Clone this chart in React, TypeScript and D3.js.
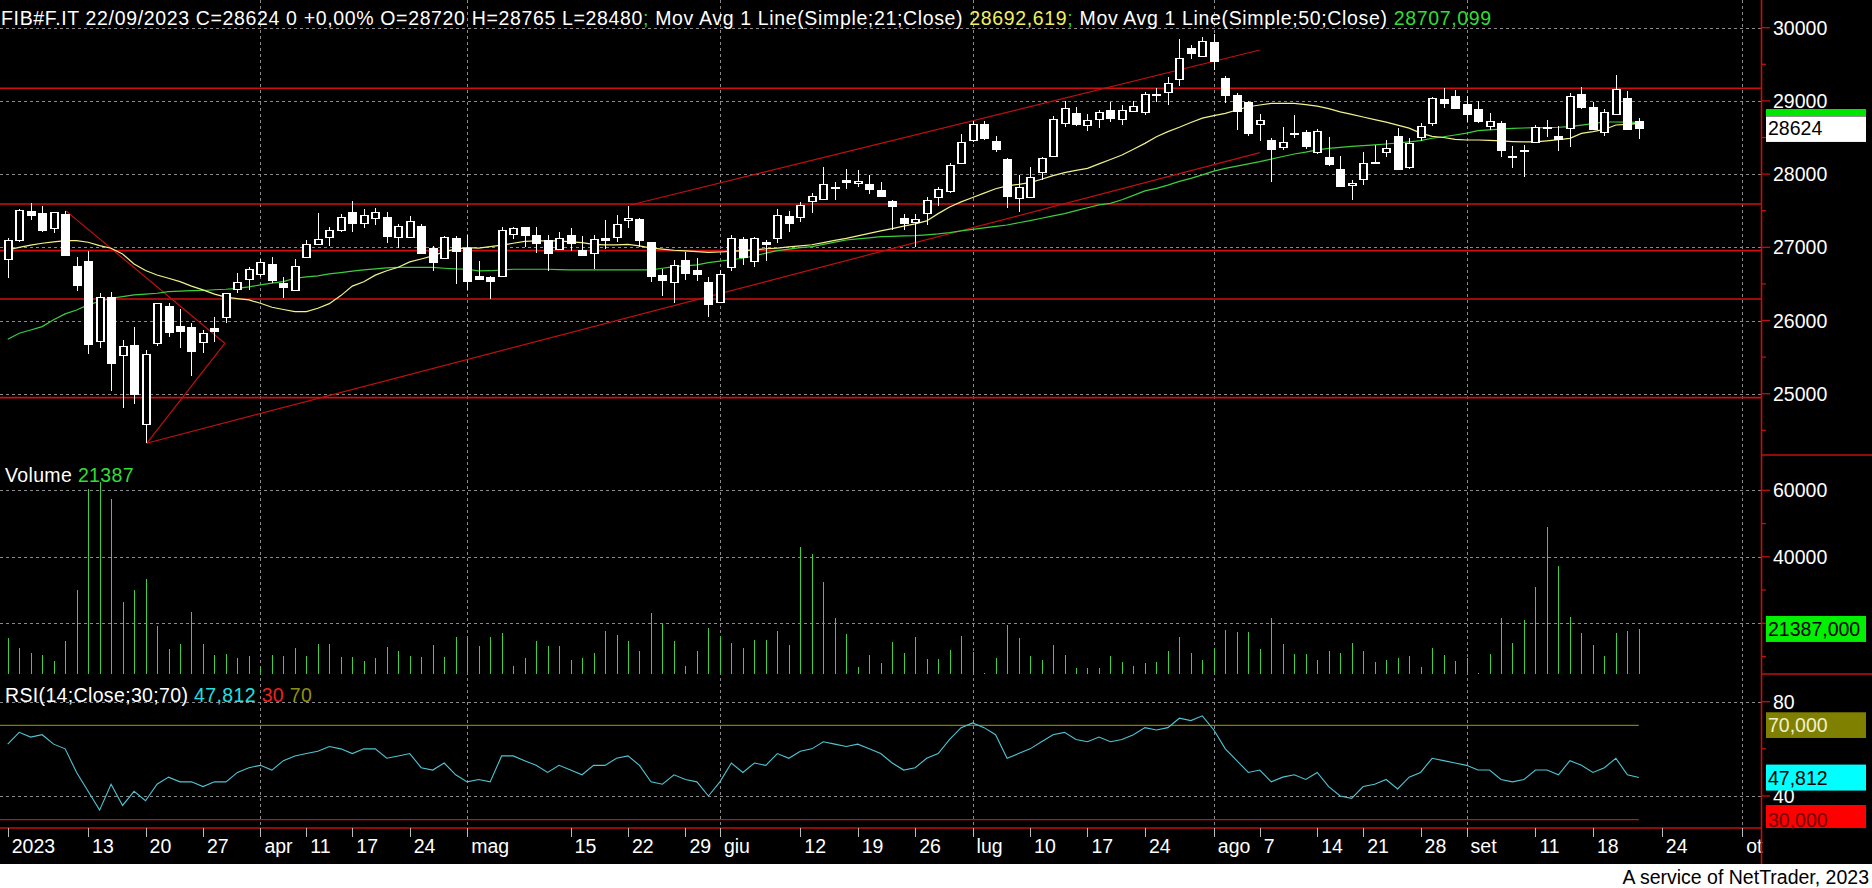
import * as d3 from "d3";

// FIB future, daily candles 02/03/2023 .. 22/09/2023
const openP = [
  26836, 27100, 27497, 27465, 27260, 27456, 26745, 26814, 25725, 26317,
  25525, 25666, 24592, 25698, 26199, 25926, 25908, 25712, 25898, 26044,
  26427, 26563, 26641, 26768, 26509, 26413, 26864, 27041, 27146, 27237,
  27478, 27337, 27396, 27410, 27146, 27146, 27292, 26996, 26850, 27123,
  26996, 26604, 26590, 26613, 27187, 27273, 27169, 27100, 26982, 27169,
  26964, 26918, 27123, 27146, 27369, 27387, 27073, 26622, 26531, 26827,
  26691, 26527, 26254, 26736, 27114, 26818, 27073, 27132, 27428, 27410,
  27638, 27665, 27829, 27920, 27875, 27865, 27783, 27629, 27401, 27351,
  27474, 27683, 27774, 28148, 28470, 28690, 28453, 28202, 27670, 27683,
  28034, 28252, 28703, 28830, 28671, 28753, 28876, 28753, 28867, 28853,
  29094, 29126, 29299, 29718, 29618, 29800, 29308, 29081, 28990, 28680,
  28466, 28375, 28566, 28571, 28297, 28238, 28065, 27847, 27929, 28156,
  28307, 28521, 28102, 28511, 28694, 29026, 29067, 28958, 28885, 28662,
  28703, 28243, 28330, 28434, 28630, 28521, 28626, 29095, 28913, 28571,
  28817, 29035, 28720,
];
const highP = [
  27123, 27519, 27601, 27565, 27487, 27501, 26864, 26950, 26372, 26386,
  25735, 25912, 25598, 26244, 26235, 26153, 25962, 25871, 26053, 26381,
  26645, 26727, 26836, 26864, 26600, 26836, 27100, 27474, 27273, 27456,
  27633, 27524, 27533, 27478, 27319, 27428, 27319, 27023, 27155, 27155,
  27169, 26814, 26609, 27273, 27273, 27283, 27273, 27169, 27214, 27260,
  27155, 27169, 27374, 27442, 27565, 27396, 27078, 26709, 26827, 26941,
  26850, 26600, 26691, 27169, 27146, 27137, 27101, 27519, 27497, 27624,
  27738, 28093, 27888, 28066, 28057, 27988, 27888, 27647, 27456, 27456,
  27692, 27829, 28148, 28548, 28720, 28720, 28521, 28216, 27988, 28093,
  28230, 28800, 28999, 28912, 28817, 28876, 28990, 28944, 29003, 29126,
  29172, 29322, 29845, 29764, 29868, 29909, 29340, 29103, 29003, 28821,
  28489, 28639, 28807, 28603, 28616, 28502, 28247, 27920, 28307, 28398,
  28466, 28625, 28489, 28694, 29058, 29172, 29149, 29067, 28999, 28840,
  28726, 28384, 28398, 28671, 28739, 28658, 29104, 29186, 28990, 28885,
  29354, 29136, 28765,
];
const lowP = [
  26586, 27078, 27374, 27214, 27192, 26887, 26408, 25539, 25621, 25042,
  24810, 24865, 24323, 25653, 25780, 25630, 25247, 25552, 25712, 25971,
  26381, 26417, 26600, 26509, 26313, 26404, 26855, 27032, 27019, 27214,
  27214, 27260, 27305, 27064, 26987, 27146, 26927, 26682, 26836, 26495,
  26417, 26572, 26295, 26600, 27110, 27009, 26918, 26682, 26964, 26955,
  26900, 26709, 26982, 27078, 27260, 27009, 26531, 26340, 26235, 26554,
  26545, 26053, 26245, 26682, 26759, 26727, 26818, 27064, 27214, 27351,
  27474, 27647, 27647, 27797, 27829, 27729, 27706, 27237, 27237, 27000,
  27305, 27565, 27747, 28139, 28440, 28470, 28307, 27533, 27488, 27670,
  27920, 28240, 28648, 28657, 28593, 28625, 28716, 28671, 28853, 28807,
  28990, 28944, 29208, 29572, 29618, 29422, 28967, 28603, 28521, 28457,
  27897, 28329, 28489, 28343, 28275, 28111, 27842, 27646, 27851, 28138,
  28229, 28065, 28065, 28457, 28657, 28899, 28885, 28717, 28703, 28603,
  28239, 28079, 27956, 28421, 28512, 28321, 28375, 28890, 28612, 28525,
  28817, 28603, 28480,
];
const closeP = [
  27096, 27510, 27446, 27237, 27478, 26896, 26486, 25680, 26317, 25416,
  25653, 25002, 25539, 26235, 25848, 25862, 25589, 25835, 25862, 26372,
  26522, 26700, 26795, 26554, 26463, 26750, 27041, 27110, 27237, 27410,
  27337, 27442, 27478, 27160, 27292, 27360, 26927, 26805, 27137, 26955,
  26545, 26572, 26545, 27237, 27260, 27169, 27055, 26927, 27132, 27055,
  26900, 27110, 27105, 27319, 27396, 27100, 26613, 26554, 26754, 26654,
  26636, 26226, 26636, 27123, 26873, 27123, 27046, 27437, 27328, 27574,
  27702, 27865, 27829, 27897, 27906, 27797, 27706, 27570, 27337, 27383,
  27647, 27793, 28125, 28435, 28680, 28490, 28339, 27706, 27820, 27966,
  28216, 28750, 28898, 28684, 28739, 28844, 28771, 28876, 28930, 29094,
  29099, 29240, 29581, 29650, 29823, 29550, 29081, 28867, 28566, 28739,
  28338, 28443, 28557, 28389, 28589, 28134, 27842, 27883, 28147, 28165,
  28361, 28074, 28429, 28657, 29035, 28976, 28908, 28821, 28730, 28730,
  28330, 28234, 28325, 28649, 28639, 28480, 29067, 28922, 28621, 28844,
  29158, 28617, 28624,
];
const volume = [
  15500, 12500, 11000, 10400, 8700, 14700, 30000, 60300, 62600, 57300,
  26300, 30000, 33300, 19200, 12300, 13800, 23300, 13800, 10500, 10800,
  9500, 10200, 7000, 10500, 10200, 12700, 10200, 13800, 13800, 9900,
  9900, 8700, 9500, 12900, 11700, 10200, 9900, 13500, 9900, 15900,
  16200, 13200, 15900, 17100, 7200, 9500, 14700, 13200, 13200, 9000,
  9500, 11100, 17700, 16500, 14700, 11700, 23000, 20000, 14700, 7200,
  11700, 18600, 16200, 14100, 12600, 15000, 15000, 17700, 13500, 42900,
  40800, 32400, 21600, 16800, 6900, 10500, 8100, 14400, 11100, 15900,
  9200, 9300, 12000, 16200, 11300, 5200, 9500, 19500, 15600, 10200,
  9000, 13500, 10500, 6600, 6600, 6600, 10200, 8400, 7200, 8100,
  8400, 11700, 15900, 11100, 9000, 12600, 18000, 17400, 17400, 12300,
  21600, 13800, 10800, 10800, 9000, 11700, 11100, 14100, 11700, 8400,
  9000, 9600, 10200, 6900, 12600, 10500, 8700, 9600, 5200, 10800,
  21600, 14100, 21000, 30900, 49000, 37200, 21900, 17100, 13500, 10200,
  17100, 17700, 18300,
];
const ma21 = [
  26964, 27000, 27030, 27055, 27075, 27091, 27091, 27069, 27023, 26987,
  26909, 26773, 26682, 26622, 26577, 26531, 26470, 26418, 26360, 26320,
  26300, 26281, 26235, 26181, 26150, 26122, 26122, 26167, 26230, 26340,
  26470, 26530, 26620, 26680, 26727, 26800, 26840, 26882, 26940, 26975,
  26996, 26990, 27010, 27030, 27055, 27080, 27087, 27087, 27087, 27075,
  27064, 27040, 27032, 27032, 27041, 27020, 26990, 26975, 26960, 26950,
  26941, 26930, 26936, 26945, 26955, 26965, 26980, 26990, 27005, 27020,
  27035, 27065, 27095, 27123, 27155, 27190, 27225, 27255, 27290, 27320,
  27360, 27460, 27550, 27620, 27680, 27740, 27800, 27840, 27860, 27884,
  27930, 27980, 28020, 28050, 28079, 28140, 28200, 28261, 28340, 28420,
  28511, 28580, 28640, 28705, 28765, 28800, 28830, 28876, 28920, 28944,
  28965, 28967, 28967, 28950, 28928, 28895, 28850, 28815, 28780, 28745,
  28710, 28670, 28628, 28560, 28515, 28500, 28475, 28466, 28466, 28460,
  28453, 28445, 28439, 28440, 28455, 28470, 28489, 28557, 28580, 28610,
  28671, 28680, 28693,
];
const ma50 = [
  25744, 25826, 25870, 25917, 26010, 26090, 26144, 26213, 26260, 26304,
  26326, 26349, 26360, 26372, 26395, 26400, 26408, 26410, 26420, 26427,
  26440, 26460, 26486, 26510, 26531, 26577, 26595, 26610, 26636, 26655,
  26675, 26691, 26705, 26718, 26727, 26727, 26727, 26725, 26714, 26705,
  26700, 26677, 26680, 26690, 26700, 26700, 26700, 26700, 26695, 26692,
  26691, 26691, 26691, 26691, 26691, 26691, 26691, 26714, 26736, 26745,
  26759, 26791, 26810, 26830, 26850, 26885, 26920, 26955, 26975, 26995,
  27009, 27040, 27070, 27100, 27115, 27130, 27146, 27150, 27155, 27160,
  27170, 27183, 27200, 27225, 27246, 27265, 27285, 27305, 27335, 27365,
  27397, 27430, 27460, 27500, 27540, 27580, 27601, 27650, 27710, 27770,
  27806, 27850, 27900, 27942, 27990, 28040, 28079, 28110, 28140, 28170,
  28205, 28240, 28275, 28300, 28330, 28352, 28365, 28380, 28390, 28400,
  28411, 28425, 28440, 28457, 28490, 28510, 28534, 28560, 28594, 28605,
  28615, 28626, 28630, 28634, 28635, 28640, 28649, 28670, 28690, 28712,
  28712, 28710, 28707,
];
const rsi = [
  62, 67, 65, 66, 62, 60, 50, 42, 34, 45,
  36, 42, 38, 45, 48, 46, 46, 44, 46, 46,
  50, 52, 53, 51, 55, 57, 58, 59, 61, 60,
  58, 60, 60, 56, 57, 58, 52, 51, 54, 49,
  46, 47, 46, 57, 57, 55, 53, 50, 53, 51,
  49, 53, 53, 56, 57, 53, 46, 45, 49, 47,
  46, 40, 46, 54, 50, 54, 53, 58, 56, 59,
  60, 63, 62, 61, 62, 60, 58, 54, 51, 52,
  56, 58, 64, 69, 71, 69, 66, 56, 58, 60,
  63, 66, 67, 64, 63, 65, 63, 64, 66, 69,
  68, 69, 73, 72, 74, 68, 60, 55, 50, 51,
  46, 48, 49, 47, 50, 44, 40, 39, 44, 45,
  47, 43, 48, 50, 56, 55, 54, 53, 51, 51,
  47, 46, 47, 51, 51, 49, 55, 53, 50, 52,
  56, 49, 47.812,
];

// x axis: slot index of each label (trading days, then calendar days after 22/09)
const tickLabels = ["2023", "13", "20", "27", "apr", "11", "17", "24", "mag", "15", "22", "29", "giu", "12", "19", "26", "lug", "10", "17", "24", "ago", "7", "14", "21", "28", "set", "11", "18", "24", "ot"];
const tickSlots = [0, 7, 12, 17, 22, 26, 30, 35, 40, 49, 54, 59, 62, 69, 74, 79, 84, 89, 94, 99, 105, 109, 114, 118, 123, 127, 133, 138, 144, 151];
const monthLabels = ["apr", "mag", "giu", "lug", "ago", "set", "ot"];

const levels = [29172, 27592, 26954, 26294, 24946];
// [slotA, priceA, slotB, priceB]
const trendLines = [
  [5.05, 27501, 18.9, 25689],
  [18.9, 25689, 12.1, 24323],
  [12.1, 24323, 109, 28293],
  [54.2, 27578, 109, 29695],
];

const priceTicks = [25000, 26000, 27000, 28000, 29000, 30000];
const priceMinor = [24500, 25500, 26500, 27500, 28500, 29500];
const volTicks = [20000, 40000, 60000];
const volMinor = [10000, 30000, 50000];
const rsiTicks = [40, 80];

const FONT = "'Liberation Sans', Arial, sans-serif";
const FS = 19.5;
const AXIS_X = 1761;

export default function App() {
  const n = closeP.length;
  const x = d3.scaleLinear().domain([0, n - 1]).range([7.7, 7.7 + (n - 1) * 11.487]);
  const yP = d3.scaleLinear().domain([25000, 30000]).range([393.7, 27.7]);
  const yV = d3.scaleLinear().domain([0, 60000]).range([689.8, 490.3]);
  const yR = d3.scaleLinear().domain([40, 80]).range([796, 701.7]);

  const px = (i: number) => Math.round(x(i)) + 0.5;

  const maLine = d3
    .line<number>()
    .x((_, i) => x(i))
    .y((d) => yP(d));
  const rsiLine = d3
    .line<number>()
    .x((_, i) => x(i))
    .y((d) => yR(d));

  const grid = { stroke: "#8a8a8a", strokeWidth: 1, strokeDasharray: "3 3" };

  return (
    <div style={{ position: "fixed", left: 0, top: 0 }}>
      <svg width={1872} height={888} style={{ display: "block", fontFamily: FONT }}>
        <defs>
          <clipPath id="pricePanel">
            <rect x={0} y={0} width={AXIS_X} height={455} />
          </clipPath>
          <clipPath id="volPanel">
            <rect x={0} y={455} width={AXIS_X} height={219} />
          </clipPath>
        </defs>
        <rect x={0} y={0} width={1872} height={888} fill="#fff" />
        <rect x={0} y={0} width={1872} height={864} fill="#000" />

        {/* grid */}
        <g shapeRendering="crispEdges">
          {priceTicks.map((p) => (
            <line key={"gp" + p} x1={0} x2={AXIS_X} y1={Math.round(yP(p)) + 0.5} y2={Math.round(yP(p)) + 0.5} {...grid} />
          ))}
          {volTicks.map((v) => (
            <line key={"gv" + v} x1={0} x2={AXIS_X} y1={Math.round(yV(v)) + 0.5} y2={Math.round(yV(v)) + 0.5} {...grid} />
          ))}
          {rsiTicks.map((r) => (
            <line key={"gr" + r} x1={0} x2={AXIS_X} y1={Math.round(yR(r)) + 0.5} y2={Math.round(yR(r)) + 0.5} {...grid} />
          ))}
          {tickLabels.map((t, k) =>
            monthLabels.includes(t) ? (
              <line key={"gx" + k} x1={px(tickSlots[k])} x2={px(tickSlots[k])} y1={0} y2={828} {...grid} />
            ) : null
          )}
        </g>

        {/* support / resistance levels */}
        <g clipPath="url(#pricePanel)">
          {levels.map((p) => (
            <line key={"lv" + p} x1={0} x2={AXIS_X} y1={yP(p)} y2={yP(p)} stroke="#d01010" strokeWidth={1.6} />
          ))}
          {trendLines.map((t, k) => (
            <line key={"tl" + k} x1={x(t[0])} y1={yP(t[1])} x2={x(t[2])} y2={yP(t[3])} stroke="#c01010" strokeWidth={1.2} />
          ))}
          <path d={maLine(ma50) ?? ""} fill="none" stroke="#3ccf3c" strokeWidth={1.2} />
          <path d={maLine(ma21) ?? ""} fill="none" stroke="#f2f28a" strokeWidth={1.2} />

          {/* candles */}
          {closeP.map((c, i) => {
            const o = openP[i];
            const up = c >= o;
            const top = Math.round(yP(Math.max(o, c)));
            const bot = Math.round(yP(Math.min(o, c)));
            const cx = px(i);
            return (
              <g key={"c" + i} shapeRendering="crispEdges">
                <line x1={cx} x2={cx} y1={yP(highP[i])} y2={yP(lowP[i])} stroke="#fff" strokeWidth={1} />
                <rect
                  x={cx - 3.5}
                  y={top + 0.5}
                  width={7}
                  height={Math.max(1, bot - top)}
                  fill={up ? "#000" : "#fff"}
                  stroke="#fff"
                  strokeWidth={1.3}
                />
              </g>
            );
          })}
        </g>

        {/* volume */}
        <g clipPath="url(#volPanel)" shapeRendering="crispEdges">
          {volume.map((v, i) => (
            <line key={"v" + i} x1={px(i)} x2={px(i)} y1={674} y2={yV(v)} stroke="#3fcf3f" strokeWidth={1} />
          ))}
        </g>

        {/* RSI */}
        <line x1={0} x2={x(n - 1)} y1={yR(70)} y2={yR(70)} stroke="#808000" strokeWidth={1.2} />
        <line x1={0} x2={x(n - 1)} y1={yR(30)} y2={yR(30)} stroke="#d01010" strokeWidth={1.2} />
        <path d={rsiLine(rsi) ?? ""} fill="none" stroke="#4fc4d4" strokeWidth={1.1} />
        <line x1={0} x2={AXIS_X} y1={828} y2={828} stroke="#c01010" strokeWidth={1.5} />

        {/* date axis */}
        <g fill="#fff" fontSize={FS}>
          {tickLabels.map((t, k) => (
            <g key={"xt" + k}>
              <line x1={px(tickSlots[k])} x2={px(tickSlots[k])} y1={828} y2={837} stroke="#bbb" strokeWidth={1} />
              <text x={x(tickSlots[k]) + 4} y={853}>
                {t}
              </text>
            </g>
          ))}
        </g>

        {/* right axis */}
        <line x1={AXIS_X + 0.5} x2={AXIS_X + 0.5} y1={0} y2={864} stroke="#c01010" strokeWidth={1.6} />
        <line x1={AXIS_X} x2={1872} y1={455} y2={455} stroke="#c01010" strokeWidth={1.5} />
        <line x1={AXIS_X} x2={1872} y1={674} y2={674} stroke="#c01010" strokeWidth={1.5} />
        <g fill="#fff" fontSize={FS}>
          {priceTicks.map((p) => (
            <g key={"ap" + p}>
              <line x1={AXIS_X} x2={AXIS_X + 9} y1={yP(p)} y2={yP(p)} stroke="#c01010" strokeWidth={1.3} />
              <text x={1773} y={yP(p)} dy="0.36em">
                {p}
              </text>
            </g>
          ))}
          {priceMinor.map((p) => (
            <line key={"am" + p} x1={AXIS_X} x2={AXIS_X + 5} y1={yP(p)} y2={yP(p)} stroke="#c01010" strokeWidth={1.3} />
          ))}
          {volTicks.map((v) => (
            <g key={"av" + v}>
              <line x1={AXIS_X} x2={AXIS_X + 9} y1={yV(v)} y2={yV(v)} stroke="#c01010" strokeWidth={1.3} />
              {v > 20000 ? (
                <text x={1773} y={yV(v)} dy="0.36em">
                  {v}
                </text>
              ) : null}
            </g>
          ))}
          {volMinor.map((v) => (
            <line key={"avm" + v} x1={AXIS_X} x2={AXIS_X + 5} y1={yV(v)} y2={yV(v)} stroke="#c01010" strokeWidth={1.3} />
          ))}
          {rsiTicks.map((r) => (
            <g key={"ar" + r}>
              <line x1={AXIS_X} x2={AXIS_X + 9} y1={yR(r)} y2={yR(r)} stroke="#c01010" strokeWidth={1.3} />
              <text x={1773} y={yR(r)} dy="0.36em">
                {r}
              </text>
            </g>
          ))}
          <line x1={AXIS_X} x2={AXIS_X + 5} y1={yR(60)} y2={yR(60)} stroke="#c01010" strokeWidth={1.3} />
        </g>

        {/* value boxes */}
        <g fontSize={FS}>
          <rect x={1766} y={109} width={100} height={7} fill="#00e600" />
          <rect x={1766} y={yP(closeP[n - 1]) - 12} width={100} height={25.5} fill="#fff" />
          <text x={1768} y={yP(closeP[n - 1])} dy="0.36em" fill="#000">
            {closeP[n - 1]}
          </text>

          <rect x={1766} y={yV(volume[n - 1]) - 13} width={100} height={26} fill="#00f000" />
          <text x={1768} y={yV(volume[n - 1])} dy="0.36em" fill="#000">
            21387,000
          </text>

          <rect x={1766} y={yR(70) - 13} width={100} height={25.7} fill="#808000" />
          <text x={1768} y={yR(70)} dy="0.36em" fill="#f0f0d0">
            70,000
          </text>

          <rect x={1766} y={yR(rsi[n - 1]) - 13} width={100} height={26} fill="#00ffff" />
          <text x={1768} y={yR(rsi[n - 1])} dy="0.36em" fill="#000">
            47,812
          </text>

          <rect x={1766} y={805} width={100} height={23} fill="#ff0000" />
          <text x={1768} y={yR(30)} dy="0.36em" fill="#700000">
            30,000
          </text>
        </g>

        {/* titles */}
        <text x={1} y={25} fontSize={FS} fill="#fff" letterSpacing={0.65} style={{ whiteSpace: "pre" }}>
          <tspan>FIB#F.IT 22/09/2023 C=28624 0 +0,00% O=28720 H=28765 L=28480</tspan>
          <tspan fill="#22dd22">;</tspan>
          <tspan> Mov Avg 1 Line(Simple;21;Close) </tspan>
          <tspan fill="#f0f060">28692,619</tspan>
          <tspan fill="#22dd22">;</tspan>
          <tspan> Mov Avg 1 Line(Simple;50;Close) </tspan>
          <tspan fill="#33dd33">28707,099</tspan>
        </text>
        <text x={5} y={482} fontSize={FS} fill="#fff" letterSpacing={0.35} style={{ whiteSpace: "pre" }}>
          <tspan>Volume </tspan>
          <tspan fill="#33dd33">21387</tspan>
        </text>
        <text x={5} y={702} fontSize={FS} fill="#fff" letterSpacing={0.35} style={{ whiteSpace: "pre" }}>
          <tspan>RSI(14;Close;30;70) </tspan>
          <tspan fill="#22e0e0">47,812</tspan>
          <tspan> </tspan>
          <tspan fill="#ee2222">30</tspan>
          <tspan> </tspan>
          <tspan fill="#909010">70</tspan>
        </text>

        {/* footer */}
        <text x={1869} y={884} textAnchor="end" fontSize={FS} fill="#000">
          A service of NetTrader, 2023
        </text>
      </svg>
    </div>
  );
}
